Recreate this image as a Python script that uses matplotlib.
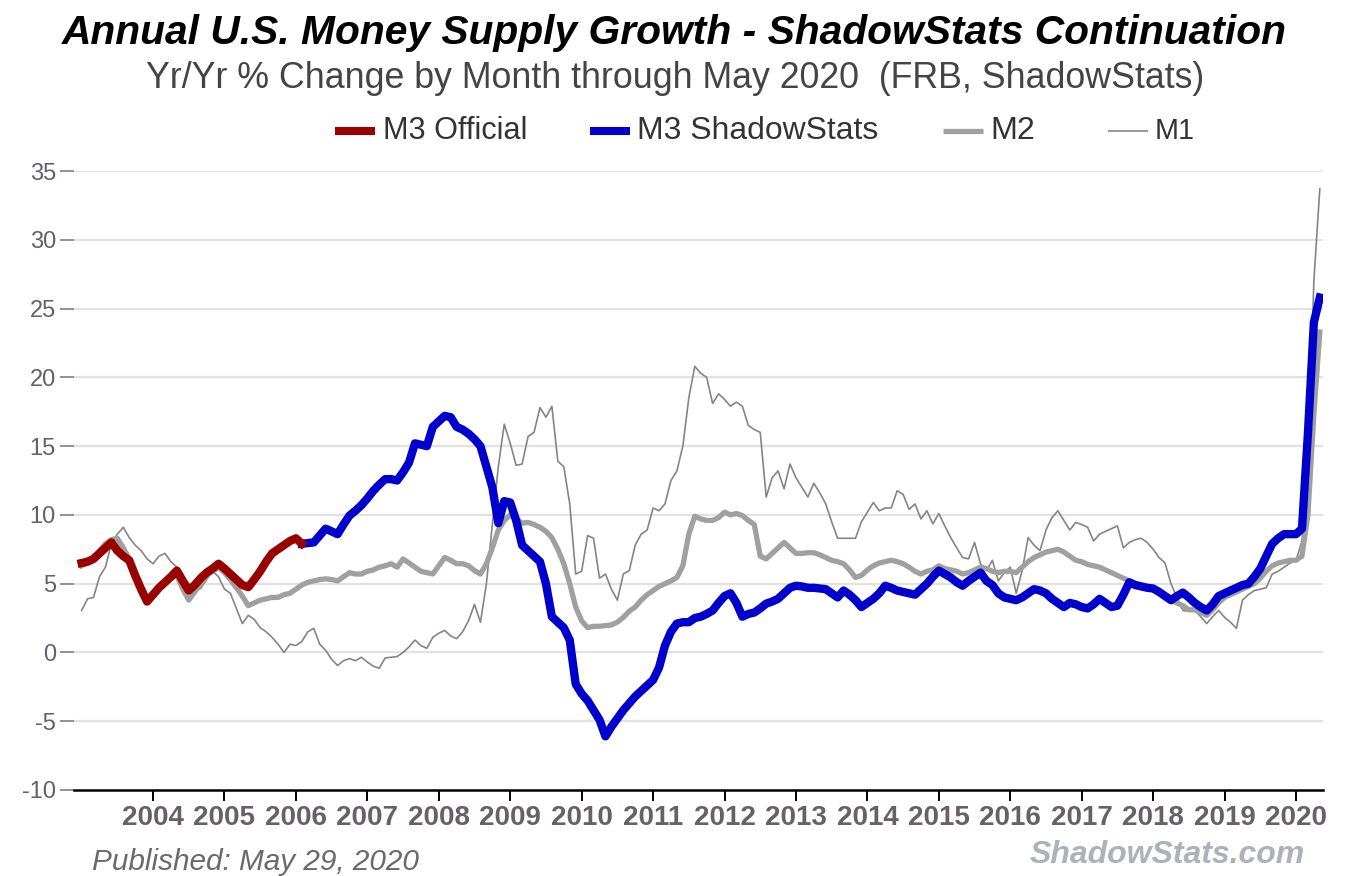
import numpy as np
import matplotlib
matplotlib.use("Agg")
import matplotlib.pyplot as plt
from matplotlib.lines import Line2D
from matplotlib import font_manager

# monthly yr/yr % change, Jan 2003 .. May 2020
m1 = [
    3.05, 3.9, 4.0, 5.5, 6.2, 7.9, 8.6, 9.1, 8.35, 7.8, 7.4, 6.8,          # 2003
    6.45, 7.0, 7.2, 6.6, 6.2, 5.45, 5.0, 4.4, 4.65, 5.3, 5.9, 5.5,          # 2004
    4.6, 4.3, 3.2, 2.1, 2.7, 2.4, 1.8, 1.5, 1.1, 0.6, 0.0, 0.6,             # 2005
    0.5, 0.8, 1.5, 1.75, 0.6, 0.15, -0.5, -0.95, -0.6, -0.45, -0.6, -0.35,  # 2006
    -0.7, -1.0, -1.15, -0.4, -0.35, -0.3, 0.0, 0.4, 0.9, 0.5, 0.3, 1.1,    # 2007
    1.4, 1.6, 1.2, 1.0, 1.5, 2.3, 3.5, 2.2, 5.0, 9.3, 13.5, 16.6,           # 2008
    15.2, 13.6, 13.7, 15.7, 16.0, 17.8, 17.1, 17.9, 13.9, 13.5, 10.8, 5.7,  # 2009
    5.9, 8.5, 8.3, 5.4, 5.7, 4.6, 3.8, 5.7, 5.95, 7.8, 8.6, 8.9,            # 2010
    10.5, 10.3, 10.8, 12.5, 13.2, 15.0, 18.5, 20.8, 20.3, 20.0, 18.1, 18.8, # 2011
    18.4, 17.9, 18.2, 17.9, 16.5, 16.2, 16.0, 11.3, 12.7, 13.2, 11.9, 13.7, # 2012
    12.7, 12.0, 11.3, 12.3, 11.6, 10.8, 9.5, 8.3, 8.3, 8.3, 8.3, 9.5,       # 2013
    10.2, 10.9, 10.3, 10.5, 10.5, 11.75, 11.5, 10.4, 10.8, 9.7, 10.3, 9.35, # 2014
    10.1, 9.2, 8.35, 7.6, 6.9, 6.8, 8.0, 6.45, 5.95, 6.7, 5.2, 5.8,         # 2015
    6.2, 4.3, 5.95, 8.35, 7.8, 7.4, 8.9, 9.8, 10.3, 9.6, 8.9, 9.45,         # 2016
    9.3, 9.1, 8.1, 8.6, 8.8, 9.0, 9.2, 7.6, 8.0, 8.2, 8.3, 8.0,             # 2017
    7.5, 6.9, 6.5, 5.0, 4.0, 3.05, 3.0, 3.05, 2.6, 2.1, 2.6, 3.05,          # 2018
    2.55, 2.2, 1.75, 3.8, 4.2, 4.5, 4.6, 4.7, 5.7, 5.9, 6.2, 6.5,           # 2019
    6.7, 8.1, 13.0, 27.0, 33.7,                                             # 2020
]

m2 = [
    6.3, 6.5, 6.9, 7.4, 7.9, 8.2, 8.3, 7.6, 6.8, 5.6, 4.6, 3.9,             # 2003
    4.3, 4.7, 5.1, 5.4, 5.6, 4.6, 3.8, 4.4, 5.0, 5.6, 5.9, 6.2,             # 2004
    5.8, 5.3, 4.7, 4.1, 3.4, 3.6, 3.8, 3.9, 4.0, 4.0, 4.2, 4.3,             # 2005
    4.6, 4.9, 5.1, 5.2, 5.3, 5.35, 5.3, 5.2, 5.5, 5.8, 5.7, 5.7,            # 2006
    5.9, 6.0, 6.2, 6.3, 6.45, 6.2, 6.8, 6.5, 6.2, 5.9, 5.8, 5.7,            # 2007
    6.3, 6.9, 6.7, 6.45, 6.45, 6.3, 5.95, 5.7, 6.45, 7.6, 8.9, 9.6,         # 2008
    10.0, 9.7, 9.4, 9.45, 9.3, 9.1, 8.8, 8.35, 7.5, 6.45, 5.0, 3.3,         # 2009
    2.3, 1.8, 1.9, 1.9, 1.95, 2.0, 2.2, 2.55, 3.0, 3.3, 3.8, 4.2,           # 2010
    4.5, 4.8, 5.0, 5.2, 5.45, 6.3, 8.6, 9.9, 9.7, 9.6, 9.6, 9.8,            # 2011
    10.2, 10.0, 10.1, 9.95, 9.6, 9.3, 7.0, 6.8, 7.2, 7.6, 8.0, 7.6,         # 2012
    7.2, 7.2, 7.25, 7.25, 7.1, 6.9, 6.7, 6.6, 6.45, 6.0, 5.45, 5.6,         # 2013
    6.0, 6.3, 6.5, 6.6, 6.7, 6.6, 6.45, 6.2, 5.9, 5.7, 5.9, 6.0,            # 2014
    6.3, 6.1, 6.0, 5.9, 5.7, 5.8, 6.0, 6.2, 6.1, 5.9, 5.8, 5.9,             # 2015
    5.9, 5.8, 6.2, 6.6, 6.9, 7.1, 7.3, 7.4, 7.5, 7.3, 7.0, 6.7,             # 2016
    6.6, 6.4, 6.3, 6.2, 6.0, 5.8, 5.6, 5.4, 5.2, 5.0, 4.9, 4.8,             # 2017
    4.6, 4.3, 4.0, 3.8, 3.6, 3.4, 3.1, 3.1, 2.9, 2.7, 3.1, 3.6,             # 2018
    4.0, 4.2, 4.4, 4.6, 4.8, 5.0, 5.4, 5.9, 6.3, 6.5, 6.6, 6.7,             # 2019
    6.7, 7.0, 10.0, 17.3, 23.3,                                             # 2020
]

# M3 official, Jan 2003 .. Feb 2006
m3_official = [
    6.5, 6.6, 6.8, 7.2, 7.6, 8.0, 7.4, 7.0, 6.7, 5.6, 4.6, 3.7,             # 2003
    4.2, 4.7, 5.1, 5.5, 5.95, 5.2, 4.5, 4.9, 5.4, 5.8, 6.1, 6.45,           # 2004
    6.1, 5.7, 5.3, 4.9, 4.75, 5.3, 5.9, 6.6, 7.2, 7.5, 7.8, 8.1,            # 2005
    8.3, 7.9,                                                               # 2006
]

# M3 ShadowStats continuation, Feb 2006 .. May 2020
m3_shadow = [
    7.9, 7.95, 8.0, 8.5, 9.0, 8.8, 8.6, 9.3, 9.95, 10.3, 10.7,              # 2006
    11.2, 11.75, 12.2, 12.6, 12.6, 12.5, 13.1, 13.8, 15.2, 15.1, 15.0, 16.4, # 2007
    16.8, 17.2, 17.1, 16.4, 16.2, 15.9, 15.5, 15.0, 13.5, 12.0, 9.4, 11.0,  # 2008
    10.9, 9.6, 7.8, 7.4, 7.0, 6.6, 5.0, 2.6, 2.2, 1.8, 0.9, -2.3,           # 2009
    -3.0, -3.5, -4.2, -4.9, -6.1, -5.4, -4.8, -4.2, -3.7, -3.2, -2.8, -2.4, # 2010
    -2.0, -1.1, 0.5, 1.5, 2.1, 2.2, 2.2, 2.5, 2.6, 2.8, 3.05, 3.6,          # 2011
    4.1, 4.3, 3.6, 2.6, 2.8, 2.9, 3.2, 3.55, 3.7, 3.9, 4.3, 4.7,            # 2012
    4.85, 4.8, 4.7, 4.7, 4.65, 4.6, 4.3, 4.0, 4.5, 4.2, 3.8, 3.3,           # 2013
    3.6, 3.9, 4.3, 4.85, 4.7, 4.5, 4.4, 4.3, 4.2, 4.6, 5.0, 5.5,            # 2014
    5.95, 5.7, 5.45, 5.1, 4.85, 5.2, 5.5, 5.8, 5.2, 4.9, 4.3, 4.0,          # 2015
    3.9, 3.8, 4.0, 4.3, 4.6, 4.5, 4.3, 3.9, 3.6, 3.3, 3.6, 3.5,             # 2016
    3.3, 3.2, 3.5, 3.9, 3.6, 3.3, 3.4, 4.2, 5.1, 4.9, 4.8, 4.7,             # 2017
    4.65, 4.4, 4.1, 3.8, 4.1, 4.35, 4.0, 3.6, 3.3, 3.05, 3.5, 4.1,          # 2018
    4.3, 4.5, 4.7, 4.9, 5.0, 5.5, 6.1, 7.0, 7.9, 8.3, 8.6, 8.6,             # 2019
    8.6, 9.0, 15.9, 24.0, 25.8,                                             # 2020
]

years = list(range(2004, 2021))
yticks = list(range(-10, 40, 5))

# month positions as fractional years
t_all = 2003 + np.arange(len(m1)) / 12.0
t_off = 2003 + np.arange(len(m3_official)) / 12.0
t_sh = 2006 + 1 / 12.0 + np.arange(len(m3_shadow)) / 12.0

# the source chart uses a narrow Arial look; use a narrow face if one is installed
names = {f.name for f in font_manager.fontManager.ttflist}
narrow = next((n for n in ["Liberation Sans Narrow", "Arial Narrow"] if n in names), None)
fam = narrow or "Liberation Sans"

W, H = 1348, 876
fig = plt.figure(figsize=(W / 100, H / 100), dpi=100)
fig.patch.set_facecolor("white")

left, right, top, bottom = 74, 1323, 171, 790
ax = fig.add_axes([left / W, 1 - bottom / H, (right - left) / W, (bottom - top) / H])
ax.set_xlim(2003 - (81.6 - left) / 71.44, 2020 + (right - 1296) / 71.44)
ax.set_ylim(-10, 35)

for y in yticks[1:]:
    ax.axhline(y, color="#e2e2e2", lw=1.6, zorder=0)

ax.plot(t_all, m1, color="#858585", lw=1.2, zorder=2)
ax.plot(t_all, m2, color="#a0a0a0", lw=3.8, zorder=3, solid_joinstyle="round")
ax.plot(t_sh, m3_shadow, color="#0000cc", lw=6.0, zorder=4, solid_joinstyle="round")
ax.plot(t_off, m3_official, color="#990000", lw=6.0, zorder=5, solid_joinstyle="round")

for s in ["left", "top", "right"]:
    ax.spines[s].set_visible(False)
ax.spines["bottom"].set_color("black")
ax.spines["bottom"].set_linewidth(1.8)

ax.set_xticks(years)
ax.set_xticklabels([str(y) for y in years], fontfamily=fam, fontweight="bold",
                   fontsize=23 if narrow else 20, color="#686068")
ax.tick_params(axis="x", direction="out", length=8, width=1.4, color="black", pad=3)
ax.set_yticks(yticks)
ax.set_yticklabels([str(y) for y in yticks], fontfamily=fam,
                   fontsize=19 if narrow else 17, color="#606070")
ax.tick_params(axis="y", direction="out", length=10, width=1.4, color="#909090", pad=3)

title = fig.text(674 / W, 1 - 33 / H, "Annual U.S. Money Supply Growth - ShadowStats Continuation",
                 ha="center", va="center", fontsize=28, fontweight="bold", fontstyle="italic",
                 family=fam, color="black")
sub = fig.text(675 / W, 1 - 78 / H, "Yr/Yr % Change by Month through May 2020  (FRB, ShadowStats)",
               ha="center", va="center", fontsize=22, family=fam, color="#444444")

leg_y = 1 - 131 / H
legend_items = [
    (335, 375, "#990000", 5.8, 383, "M3 Official", 145),
    (590, 630, "#0000cc", 5.8, 637, "M3 ShadowStats", 241),
    (943, 983, "#a0a0a0", 3.8, 990, "M2", 45),
    (1108, 1148, "#858585", 1.2, 1155, "M1", 40),
]
leg_texts = []
for x0, x1, c, lw, tx, label, tw in legend_items:
    fig.add_artist(Line2D([x0 / W, x1 / W], [leg_y, leg_y], transform=fig.transFigure,
                          color=c, lw=lw, solid_capstyle="butt"))
    leg_texts.append((fig.text(tx / W, leg_y, label, ha="left", va="center", fontsize=17,
                               family=fam, color="#333333"), tw))

pub = fig.text(92 / W, 1 - 862 / H, "Published: May 29, 2020", ha="left", va="center",
               fontsize=17, fontstyle="italic", family=fam, color="#6a6a6a")
brand = fig.text(1305 / W, 1 - 855 / H, "ShadowStats.com", ha="right", va="center",
                 fontsize=20, fontstyle="italic", fontweight="bold", family=fam, color="#adb1ba")

# scale texts to the widths seen in the reference
renderer = fig.canvas.get_renderer()
for t, target in [(title, 1225), (sub, 1060), (pub, 328), (brand, 275)] + leg_texts:
    w = t.get_window_extent(renderer).width
    t.set_fontsize(t.get_fontsize() * target / w)

fig.savefig("out.png", dpi=100)
